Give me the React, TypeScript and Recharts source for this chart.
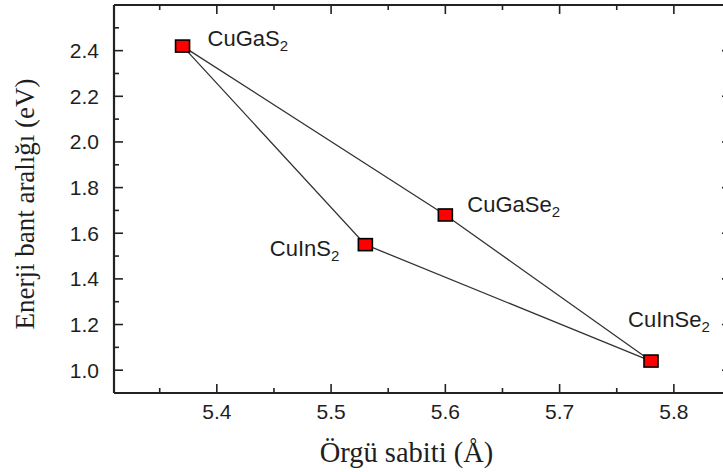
import React from 'react';
import { ScatterChart, Scatter, XAxis, YAxis } from 'recharts';

// ---- data ----
const compounds = ['CuGaS2', 'CuInS2', 'CuGaSe2', 'CuInSe2'];
const latticeConstants = [5.37, 5.53, 5.6, 5.78]; // Å
const bandGaps = [2.42, 1.55, 1.68, 1.04]; // eV
const pathThroughCuInS2 = ['CuGaS2', 'CuInS2', 'CuInSe2'];
const pathThroughCuGaSe2 = ['CuGaS2', 'CuGaSe2', 'CuInSe2'];

const xMajorTicks = [5.4, 5.5, 5.6, 5.7, 5.8];
const xMinorTicks = [5.35, 5.45, 5.55, 5.65, 5.75, 5.85];
const yMajorTicks = [1.0, 1.2, 1.4, 1.6, 1.8, 2.0, 2.2, 2.4];
const yMinorTicks = [1.1, 1.3, 1.5, 1.7, 1.9, 2.1, 2.3, 2.5];
const xDomain: [number, number] = [5.31, 5.85];
const yDomain: [number, number] = [0.9, 2.6];

const xTitle = 'Örgü sabiti (Å)';
const yTitle = 'Enerji bant aralığı (eV)';

// ---- styling ----
const labelPlacement: Record<string, { dx: number; dy: number; anchor: 'start' | 'end' }> = {
  CuGaS2: { dx: 25, dy: 0, anchor: 'start' },
  CuInS2: { dx: -26, dy: 11, anchor: 'end' },
  CuGaSe2: { dx: 22, dy: -3, anchor: 'start' },
  CuInSe2: { dx: -23, dy: -34, anchor: 'start' },
};

const SANS = '"Liberation Sans", Arial, sans-serif';
const SERIF = '"Liberation Serif", "Times New Roman", serif';
const INK = '#1e1e1e';
const AXIS = '#222';
const MAJOR_LEN = 9;
const MINOR_LEN = 5;

const points = compounds.map((name, i) => ({ name, x: latticeConstants[i], y: bandGaps[i] }));
const byName = (n: string) => points.find((p) => p.name === n)!;
const path1 = pathThroughCuInS2.map(byName);
const path2 = pathThroughCuGaSe2.map(byName);

const xAllTicks = [...xMajorTicks, ...xMinorTicks].sort((a, b) => a - b);
const yAllTicks = [...yMajorTicks, ...yMinorTicks].sort((a, b) => a - b);
const isIn = (list: number[], v: number) => list.some((t) => Math.abs(t - v) < 1e-6);

const noShape = () => <g />;

const Marker = (props: any) => {
  const { cx, cy, payload } = props;
  const place = labelPlacement[payload.name];
  const base = payload.name.slice(0, -1);
  const sub = payload.name.slice(-1);
  return (
    <g>
      <rect x={cx - 7} y={cy - 6} width={14} height={12} fill="#ff0000" stroke="#000" strokeWidth={1.6} />
      <text x={cx + place.dx} y={cy + place.dy} textAnchor={place.anchor} fontFamily={SANS} fontSize={22} fill={INK}>
        {base}
        <tspan dy={5} fontSize={15}>
          {sub}
        </tspan>
      </text>
    </g>
  );
};

const BottomTick = (props: any) => {
  const { x, y, payload } = props;
  const major = isIn(xMajorTicks, payload.value);
  return (
    <g>
      <line x1={x} x2={x} y1={y} y2={y - (major ? MAJOR_LEN : MINOR_LEN)} stroke={AXIS} strokeWidth={1.6} />
      {major && (
        <text x={x} y={y + 11} dy="0.71em" textAnchor="middle" fontFamily={SANS} fontSize={21} fill={INK}>
          {Number(payload.value).toFixed(1)}
        </text>
      )}
    </g>
  );
};

const LeftTick = (props: any) => {
  const { x, y, payload } = props;
  const major = isIn(yMajorTicks, payload.value);
  return (
    <g>
      <line x1={x} x2={x + (major ? MAJOR_LEN : MINOR_LEN)} y1={y} y2={y} stroke={AXIS} strokeWidth={1.6} />
      {major && (
        <text x={x - 15} y={y} dy="0.355em" textAnchor="end" fontFamily={SANS} fontSize={21} fill={INK}>
          {Number(payload.value).toFixed(1)}
        </text>
      )}
    </g>
  );
};

const TopTick = (props: any) => {
  const { x, y, payload } = props;
  const major = isIn(xMajorTicks, payload.value);
  return <line x1={x} x2={x} y1={y} y2={y + (major ? MAJOR_LEN : MINOR_LEN)} stroke={AXIS} strokeWidth={1.6} />;
};

const RightTick = (props: any) => {
  const { x, y, payload } = props;
  const major = isIn(yMajorTicks, payload.value);
  return <line x1={x} x2={x - (major ? MAJOR_LEN : MINOR_LEN)} y1={y} y2={y} stroke={AXIS} strokeWidth={1.6} />;
};

const XTitle = (props: any) => {
  const vb = props.viewBox || { x: 114, y: 393, width: 617, height: 79 };
  const cx = vb.x + vb.width / 2 - 16;
  const cy = vb.y + vb.height - 10;
  return (
    <text x={cx} y={cy} textAnchor="middle" fontFamily={SERIF} fontSize={28.5} fill={INK}>
      {xTitle}
    </text>
  );
};

const YTitle = (props: any) => {
  const vb = props.viewBox || { x: 0, y: 5, width: 114, height: 388 };
  const cx = vb.x + 34;
  const cy = vb.y + vb.height / 2 + 5;
  return (
    <text x={cx} y={cy} transform={`rotate(-90 ${cx} ${cy})`} textAnchor="middle" fontFamily={SERIF} fontSize={27} fill={INK}>
      {yTitle}
    </text>
  );
};

export default function App() {
  return (
    <div style={{ position: 'absolute', left: 0, top: 0, width: 723, height: 472, overflow: 'hidden', background: '#fff' }}>
      <ScatterChart width={760} height={472} margin={{ top: 4, right: 28, bottom: 0, left: 0 }}>
        <XAxis
          xAxisId="x"
          type="number"
          dataKey="x"
          domain={xDomain}
          allowDataOverflow
          ticks={xAllTicks}
          interval={0}
          tickLine={false}
          tickSize={0}
          tickMargin={0}
          axisLine={{ stroke: AXIS, strokeWidth: 2.2 }}
          tick={BottomTick}
          height={79}
          label={<XTitle />}
        />
        <YAxis
          yAxisId="y"
          type="number"
          dataKey="y"
          domain={yDomain}
          allowDataOverflow
          ticks={yAllTicks}
          interval={0}
          tickLine={false}
          tickSize={0}
          tickMargin={0}
          axisLine={{ stroke: AXIS, strokeWidth: 2.2 }}
          tick={LeftTick}
          width={114}
          label={<YTitle />}
        />
        <XAxis
          xAxisId="top"
          orientation="top"
          type="number"
          dataKey="x"
          domain={xDomain}
          allowDataOverflow
          ticks={xAllTicks}
          interval={0}
          tickLine={false}
          tickSize={0}
          tickMargin={0}
          axisLine={{ stroke: AXIS, strokeWidth: 2.2 }}
          tick={TopTick}
          height={1}
        />
        <YAxis
          yAxisId="right"
          orientation="right"
          type="number"
          dataKey="y"
          domain={yDomain}
          allowDataOverflow
          ticks={yAllTicks}
          interval={0}
          tickLine={false}
          tickSize={0}
          tickMargin={0}
          axisLine={{ stroke: AXIS, strokeWidth: 2.2 }}
          tick={RightTick}
          width={1}
        />

        {/* invisible series that binds the top/right frame axes */}
        <Scatter xAxisId="top" yAxisId="right" data={points} shape={noShape} isAnimationActive={false} />
        {/* connecting lines */}
        <Scatter xAxisId="x" yAxisId="y" data={path1} line={{ stroke: '#333', strokeWidth: 1.3 }} shape={noShape} isAnimationActive={false} />
        <Scatter xAxisId="x" yAxisId="y" data={path2} line={{ stroke: '#333', strokeWidth: 1.3 }} shape={noShape} isAnimationActive={false} />
        {/* markers with labels */}
        <Scatter xAxisId="x" yAxisId="y" data={points} shape={Marker} isAnimationActive={false} />
      </ScatterChart>
    </div>
  );
}
